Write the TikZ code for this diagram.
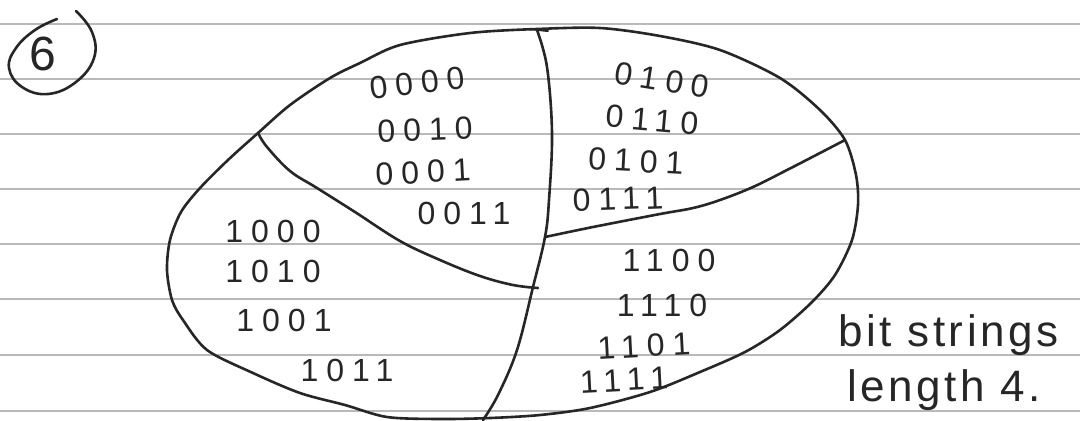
\documentclass[tikz,border=0pt]{standalone}
\usepackage{fontspec}
\setmainfont{Liberation Sans}
\newfontfamily\handbits[LetterSpace=25]{Liberation Sans}
\newfontfamily\handtext[LetterSpace=8]{Liberation Sans}
\begin{document}
\begin{tikzpicture}[x=0.5pt,y=-0.5pt,
  rule/.style={gray!55,line width=0.6pt},
  pen/.style={black!85,line width=1.3pt,line cap=round,line join=round},
  bits/.style={font=\handbits\fontsize{16}{16}\selectfont,inner sep=0pt,text=black!85},
  note/.style={font=\handtext\fontsize{22}{22}\selectfont,inner sep=0pt,text=black!85,anchor=west}]
\useasboundingbox (0,0) rectangle (1080,420);
% ruled paper lines
\foreach \yy in {24,79,134,189,244,299,355,411}
  \draw[rule] (0,\yy) -- (1080,\yy);
% question number
\draw[pen] plot[smooth,tension=0.7] coordinates {(57,19) (35,30) (16,48) (9,68) (22,87) (48,94) (76,82) (94,58) (92,32) (76,11)};
\node[font=\fontsize{24}{24}\selectfont,inner sep=0pt,text=black!85] (q) at (43,54) {6};
% named junctions
\coordinate (top) at (537,30);
\coordinate (bot) at (483,420);
\coordinate (jl) at (258,133);
\coordinate (jr) at (845,140);
\coordinate (ml) at (538,288);
\coordinate (mr) at (545,237);
% outer oval
\draw[pen] plot[smooth cycle,tension=0.5] coordinates {
 (537,29) (600,28) (660,36) (720,50) (780,78) (820,110) (845,140) (856,175)
 (858,205) (852,240) (835,275) (812,302) (780,330) (745,352) (700,372) (650,392)
 (590,408) (540,415) (490,418) (440,419) (387,417) (345,405) (300,393) (253,373)
 (207,350) (183,320) (172,300) (167,270) (170,240) (181,212) (200,188) (228,160) (258,133)
 (290,105) (330,78) (360,63) (400,45) (470,33)};
% vertical divider
\draw[pen] plot[smooth,tension=0.6] coordinates {(top) (547,67) (552,133) (549,200) (545,237) (533,287) (517,350) (498,395) (bot)};
\draw[pen,line width=1pt] (529,29) -- (548,31);
% left inner curve
\draw[pen] plot[smooth,tension=0.6] coordinates {(jl) (267,147) (290,171) (317,188) (355,212) (400,241) (440,260) (480,276) (513,285) (ml)};
% right inner curve
\draw[pen] plot[smooth,tension=0.6] coordinates {(mr) (593,227) (660,214) (693,208) (720,200) (753,187) (787,170) (820,153) (jr)};
% bit strings
\node[bits,rotate=7] (b0000) at (417,83) {0000};
\node[bits,rotate=2] (b0010) at (425,130) {0010};
\node[bits,rotate=3] (b0001) at (423,172) {0001};
\node[bits] (b0011) at (464,213) {0011};
\node[bits,rotate=-9] (b0100) at (662,80) {0100};
\node[bits,rotate=-5] (b0110) at (652,120) {0110};
\node[bits,rotate=-3] (b0101) at (636,161) {0101};
\node[bits,rotate=2] (b0111) at (618,199) {0111};
\node[bits] (b1000) at (273,231) {1000};
\node[bits] (b1010) at (273,271) {1010};
\node[bits] (b1001) at (284,320) {1001};
\node[bits] (b1011) at (347,370) {1011};
\node[bits] (b1100) at (669,260) {1100};
\node[bits] (b1110) at (662,305) {1110};
\node[bits,rotate=3] (b1101) at (644,346) {1101};
\node[bits,rotate=3] (b1111) at (624,380) {1111};
% note
\node[note] (n1) at (838,335) {bit strings};
\node[note] (n2) at (847,390) {length 4.};
\end{tikzpicture}
\end{document}
